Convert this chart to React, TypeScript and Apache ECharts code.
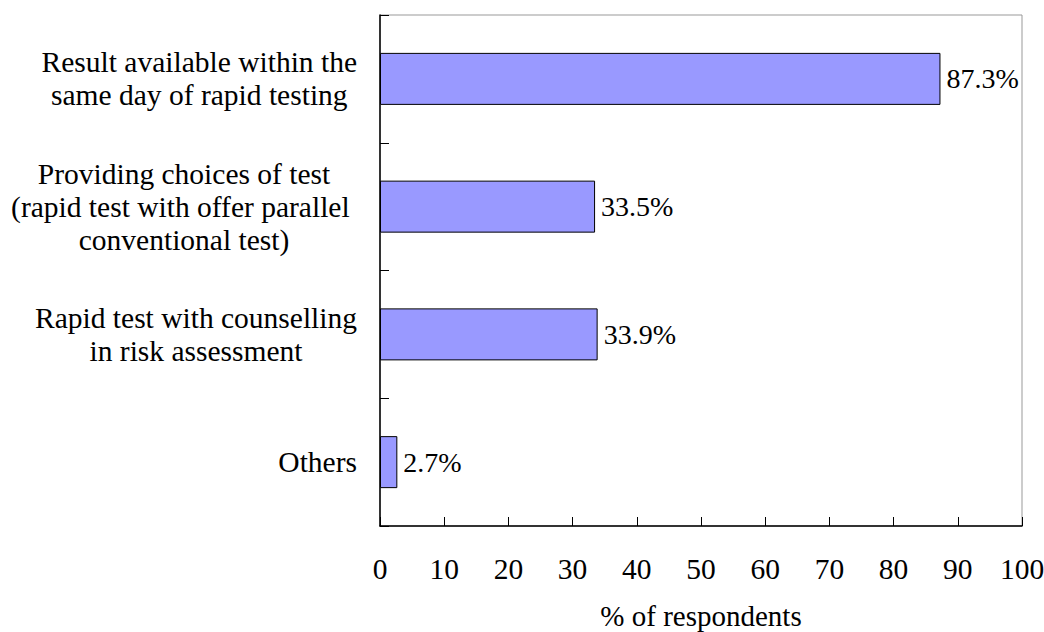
import React, { useEffect, useRef } from "react";
import * as echarts from "echarts";

const categories: string[] = [
  "Result available within the\nsame day of rapid testing",
  "Providing choices of test\n(rapid test with offer parallel \nconventional test)",
  "Rapid test with counselling\nin risk assessment",
  "Others",
];
const values: number[] = [87.3, 33.5, 33.9, 2.7];
const xMin = 0;
const xMax = 100;
const xInterval = 10;
const xAxisName = "% of respondents";

const FONT = "Liberation Serif";

export default function App() {
  const ref = useRef<HTMLDivElement>(null);
  useEffect(() => {
    document.body.style.margin = "0";
    const chart = echarts.init(ref.current!, undefined, { renderer: "svg" });
    chart.setOption({
      animation: false,
      backgroundColor: "#ffffff",
      textStyle: { fontFamily: FONT, fontSize: 28, color: "#000" },
      grid: {
        left: 380,
        right: 22,
        top: 15,
        bottom: 106,
        containLabel: false,
        outerBoundsMode: "none",
        show: true,
        borderColor: "#999999",
        borderWidth: 1,
        backgroundColor: "transparent",
      },
      xAxis: {
        type: "value",
        min: xMin,
        max: xMax,
        interval: xInterval,
        name: xAxisName,
        nameLocation: "middle",
        nameGap: 75,
        nameTextStyle: { fontFamily: FONT, fontSize: 29, color: "#000" },
        axisLine: { show: true, lineStyle: { color: "#000", width: 1.5 } },
        axisTick: { show: true, inside: true, length: 9, lineStyle: { color: "#000", width: 1 } },
        axisLabel: { fontFamily: FONT, fontSize: 29.5, color: "#000", margin: 28 },
        splitLine: { show: false },
      },
      yAxis: {
        type: "category",
        data: categories,
        inverse: true,
        axisLine: { show: true, lineStyle: { color: "#000", width: 1.5 } },
        axisTick: { show: true, inside: true, length: 9, lineStyle: { color: "#000", width: 1 } },
        axisLabel: {
          margin: 23,
          color: "#000",
          fontFamily: FONT,
          fontSize: 29.5,
          lineHeight: 33,
          formatter: (v: string) =>
            v
              .split("\n")
              .map((l) => `{c|${l}}`)
              .join("\n"),
          rich: {
            c: {
              align: "center",
              fontFamily: FONT,
              fontSize: 29.5,
              lineHeight: 33,
              color: "#000",
            },
          },
        },
        splitLine: { show: false },
      },
      series: [
        {
          type: "bar",
          data: values,
          barWidth: 52,
          itemStyle: { color: "#9999FF", borderColor: "#000", borderWidth: 1 },
          label: {
            show: true,
            position: "right",
            distance: 6,
            formatter: (p: any) => `${p.value}%`,
            fontFamily: FONT,
            fontSize: 28,
            color: "#000",
          },
        },
      ],
    });
    return () => chart.dispose();
  }, []);
  return <div ref={ref} style={{ width: 1044, height: 632 }} />;
}
